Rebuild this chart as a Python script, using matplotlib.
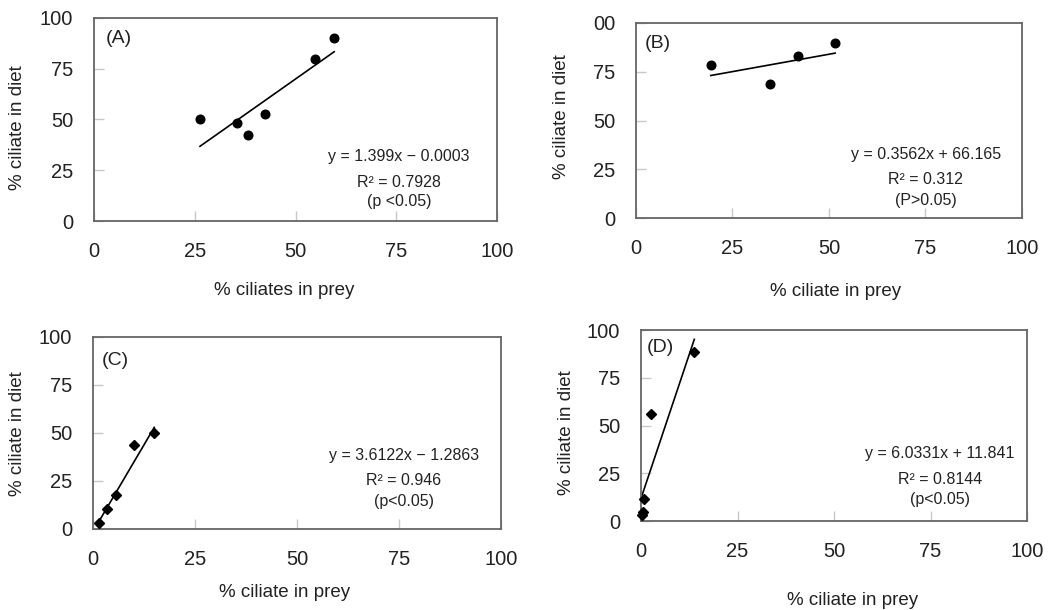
import matplotlib
matplotlib.use("Agg")
import numpy as np
import matplotlib.pyplot as plt

plt.rcParams["font.family"] = ["Liberation Sans", "DejaVu Sans"]

# panel A: circles
a_x = [26.3, 35.4, 38.3, 42.5, 54.8, 59.6]
a_y = [50.2, 48.3, 42.4, 52.9, 79.6, 90.3]
# panel B: circles
b_x = [19.4, 34.8, 42.0, 51.6]
b_y = [78.6, 68.9, 82.9, 89.6]
# panel C: diamonds
c_x = [1.5, 3.5, 5.6, 10.1, 15.0]
c_y = [3.3, 10.4, 17.5, 43.6, 49.8]
# panel D: diamonds
d_x = [0.3, 0.6, 0.9, 2.6, 13.8]
d_y = [3.0, 4.5, 11.6, 55.8, 88.5]

# reported regression fits (slope, intercept)
fit_a = (1.399, -0.0003)
fit_b = (0.3562, 66.165)
fit_c = (3.6122, -1.2863)
fit_d = (6.0331, 11.841)

eq_a = ["y = 1.399x \u2212 0.0003", "R\u00b2 = 0.7928", "(p <0.05)"]
eq_b = ["y = 0.3562x + 66.165", "R\u00b2 = 0.312", "(P>0.05)"]
eq_c = ["y = 3.6122x \u2212 1.2863", "R\u00b2 = 0.946", "(p<0.05)"]
eq_d = ["y = 6.0331x + 11.841", "R\u00b2 = 0.8144", "(p<0.05)"]

ticks = [0, 25, 50, 75, 100]
tick_labels = ["0", "25", "50", "75", "100"]
b_ytick_labels = ["0", "25", "50", "75", "00"]  # top label is cut off in the source

TXT = "#222222"

panels = [
    dict(rect=[0.0891, 0.6377, 0.3820, 0.3328], x=a_x, y=a_y, fit=fit_a, eq=eq_a,
         tag="(A)", marker="o", ms=6.2, xlabel="% ciliates in prey",
         tag_pos=(0.062, 0.897), eq_x=0.757, eq_y=[0.320, 0.192, 0.094],
         xl=(0.471, -0.340), yl=(-0.191, 0.458), ylabels=tick_labels),
    dict(rect=[0.6028, 0.6426, 0.3659, 0.3197], x=b_x, y=b_y, fit=fit_b, eq=eq_b,
         tag="(B)", marker="o", ms=6.2, xlabel="% ciliate in prey",
         tag_pos=(0.057, 0.897), eq_x=0.751, eq_y=[0.328, 0.195, 0.092],
         xl=(0.518, -0.379), yl=(-0.192, 0.518), ylabels=b_ytick_labels),
    dict(rect=[0.0882, 0.1328, 0.3867, 0.3148], x=c_x, y=c_y, fit=fit_c, eq=eq_c,
         tag="(C)", marker="D", ms=5.2, xlabel="% ciliate in prey",
         tag_pos=(0.054, 0.880), eq_x=0.762, eq_y=[0.385, 0.255, 0.142],
         xl=(0.470, -0.333), yl=(-0.186, 0.495), ylabels=tick_labels),
    dict(rect=[0.6076, 0.1459, 0.3659, 0.3131], x=d_x, y=d_y, fit=fit_d, eq=eq_d,
         tag="(D)", marker="D", ms=5.2, xlabel="% ciliate in prey",
         tag_pos=(0.049, 0.911), eq_x=0.775, eq_y=[0.351, 0.215, 0.110],
         xl=(0.547, -0.414), yl=(-0.192, 0.461), ylabels=tick_labels),
]

fig = plt.figure(figsize=(10.55, 6.10), dpi=100)

for p in panels:
    ax = fig.add_axes(p["rect"])
    ax.plot(p["x"], p["y"], linestyle="none", marker=p["marker"], ms=p["ms"],
            color="black", clip_on=False, zorder=3)
    slope, icpt = p["fit"]
    fx = np.array([min(p["x"]), max(p["x"])])
    ax.plot(fx, slope * fx + icpt, color="black", lw=1.2, zorder=2)

    ax.set_xlim(0, 100)
    ax.set_ylim(0, 100)
    ax.set_xticks(ticks)
    ax.set_yticks(ticks)
    ax.set_xticklabels(tick_labels)
    ax.set_yticklabels(p["ylabels"])
    ax.tick_params(direction="in", length=7, width=1, color="#c8c8c8",
                   labelsize=14.5, labelcolor=TXT, pad=15)
    for s in ax.spines.values():
        s.set_color("#666666")
        s.set_linewidth(1.3)

    ax.set_xlabel(p["xlabel"], fontsize=13.5, color=TXT)
    ax.set_ylabel("% ciliate in diet", fontsize=13.5, color=TXT)
    ax.xaxis.label.set_va("center")
    ax.yaxis.label.set_va("center")
    ax.xaxis.set_label_coords(*p["xl"])
    ax.yaxis.set_label_coords(*p["yl"])

    ax.text(p["tag_pos"][0], p["tag_pos"][1], p["tag"], transform=ax.transAxes,
            fontsize=14, color=TXT, ha="center", va="center")
    for line, yy in zip(p["eq"], p["eq_y"]):
        ax.text(p["eq_x"], yy, line, transform=ax.transAxes, fontsize=11.5,
                color=TXT, ha="center", va="center")

fig.savefig("out.png", dpi=100)
